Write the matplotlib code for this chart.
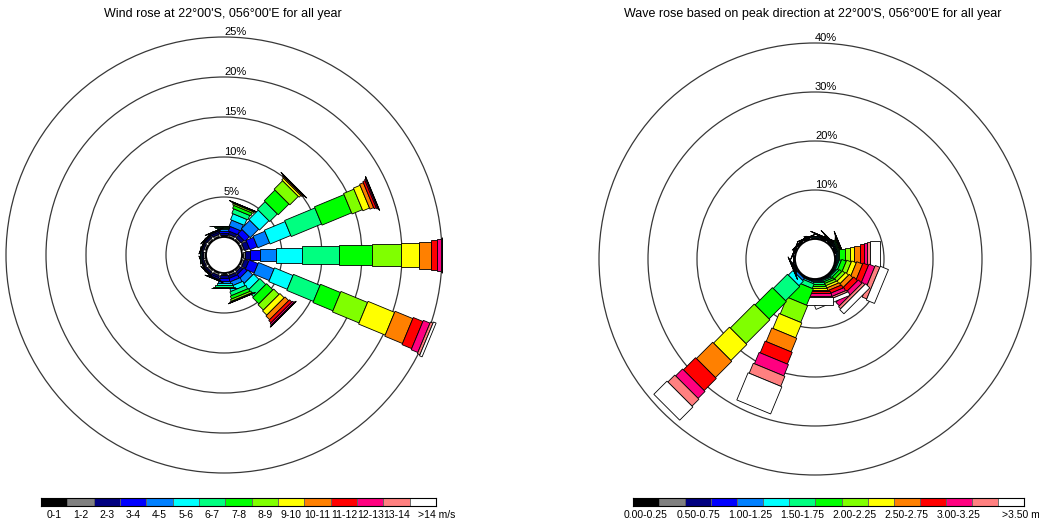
import numpy as np
import matplotlib
matplotlib.use("Agg")
import matplotlib.pyplot as plt
from matplotlib.patches import Polygon, Circle

plt.rcParams['font.family'] = ['Liberation Sans', 'DejaVu Sans']

# speed / height class colours (shared by both roses)
class_colors = ['#000000', '#808080', '#000080', '#0000ff', '#0080ff', '#00ffff',
                '#00ff80', '#00ff00', '#80ff00', '#ffff00', '#ff8000', '#ff0000',
                '#ff0080', '#ff8080', '#ffffff']

wind_labels = ['0-1', '1-2', '2-3', '3-4', '4-5', '5-6', '6-7', '7-8', '8-9',
               '9-10', '10-11', '11-12', '12-13', '13-14', '>14 m/s']
wave_labels = ['0.00-0.25', '', '0.50-0.75', '', '1.00-1.25', '', '1.50-1.75', '',
               '2.00-2.25', '', '2.50-2.75', '', '3.00-3.25', '', '>3.50 m']

# 16 sectors, compass bearing the bar points to
sectors = np.arange(16) * 22.5

# wind frequency (%) per speed class, one list per sector
wind_n = [0.1, 0.2, 0.25, 0.25, 0.2, 0.15, 0.1, 0.07, 0.04, 0.02, 0.01, 0.01, 0, 0, 0]
wind_nne = [0.1, 0.25, 0.4, 0.6, 0.8, 0.8, 0.6, 0.4, 0.2, 0.08, 0.04, 0.02, 0.01, 0, 0]
wind_ne = [0.1, 0.25, 0.45, 0.8, 1.5, 1.65, 1.35, 1.9, 1.5, 0.3, 0.15, 0.08, 0.04, 0.02, 0.01]
wind_ene = [0.1, 0.25, 0.65, 1.0, 1.6, 2.8, 4.1, 4.0, 1.4, 0.9, 0.5, 0.3, 0.15, 0.08, 0.04]
wind_e = [0.1, 0.25, 0.6, 1.25, 2.1, 3.25, 4.6, 4.1, 3.6, 2.25, 1.5, 0.75, 0.5, 0.1, 0.05]
wind_ese = [0.1, 0.25, 0.55, 1.2, 2.1, 2.5, 3.6, 2.7, 3.6, 3.6, 2.4, 1.3, 0.9, 0.35, 0.35]
wind_se = [0.1, 0.2, 0.35, 0.55, 0.85, 0.95, 1.05, 1.1, 0.95, 0.75, 0.65, 0.4, 0.22, 0.08, 0.04]
wind_sse = [0.1, 0.25, 0.35, 0.45, 0.55, 0.6, 0.5, 0.4, 0.25, 0.1, 0.04, 0.01, 0, 0, 0]
wind_s = [0.1, 0.2, 0.3, 0.35, 0.3, 0.25, 0.2, 0.1, 0.06, 0.03, 0.01, 0, 0, 0, 0]
wind_ssw = [0.12, 0.25, 0.25, 0.18, 0.1, 0.05, 0.03, 0.01, 0, 0, 0, 0, 0, 0, 0]
wind_sw = [0.12, 0.25, 0.2, 0.12, 0.06, 0.03, 0.01, 0, 0, 0, 0, 0, 0, 0, 0]
wind_wsw = [0.12, 0.22, 0.18, 0.1, 0.05, 0.02, 0.01, 0, 0, 0, 0, 0, 0, 0, 0]
wind_w = [0.12, 0.22, 0.18, 0.1, 0.05, 0.02, 0.01, 0, 0, 0, 0, 0, 0, 0, 0]
wind_wnw = [0.12, 0.22, 0.18, 0.1, 0.05, 0.02, 0.01, 0, 0, 0, 0, 0, 0, 0, 0]
wind_nw = [0.12, 0.25, 0.2, 0.12, 0.06, 0.03, 0.01, 0, 0, 0, 0, 0, 0, 0, 0]
wind_nnw = [0.12, 0.25, 0.25, 0.15, 0.08, 0.04, 0.02, 0.01, 0, 0, 0, 0, 0, 0, 0]

# wave frequency (%) per height class, one list per sector (peak direction)
wave_n = [0.1, 0.15, 0.1, 0.08, 0.05, 0.04, 0.03, 0.02, 0.01, 0.01, 0, 0, 0, 0, 0]
wave_nne = [0.1, 0.15, 0.15, 0.1, 0.08, 0.06, 0.05, 0.04, 0.03, 0.02, 0.01, 0.01, 0, 0, 0]
wave_ne = [0.1, 0.15, 0.15, 0.12, 0.1, 0.08, 0.06, 0.05, 0.04, 0.03, 0.02, 0.01, 0.01, 0, 0]
wave_ene = [0.1, 0.15, 0.15, 0.15, 0.15, 0.15, 0.2, 0.2, 0.15, 0.1, 0.08, 0.05, 0.04, 0.02, 0.01]
wave_e = [0.05, 0.05, 0.05, 0.1, 0.15, 0.2, 0.3, 1.1, 1.0, 0.8, 1.3, 0.8, 0.6, 0.6, 2.0]
wave_ese = [0.05, 0.05, 0.05, 0.1, 0.15, 0.2, 0.4, 1.0, 1.0, 1.0, 1.3, 1.2, 1.3, 1.0, 1.8]
wave_se = [0.05, 0.05, 0.05, 0.1, 0.15, 0.2, 0.4, 0.6, 0.7, 0.8, 1.0, 1.1, 1.0, 0.6, 1.2]
wave_sse = [0.05, 0.05, 0.05, 0.1, 0.15, 0.2, 0.3, 0.4, 0.5, 0.5, 0.6, 0.7, 0.7, 0.4, 0.8]
wave_s = [0.02, 0.03, 0.05, 0.1, 0.15, 0.2, 0.4, 0.4, 0.4, 0.4, 0.4, 0.4, 0.45, 0.3, 1.6]
wave_ssw = [0.03, 0.05, 0.07, 0.1, 0.15, 0.3, 1.0, 3.6, 3.7, 3.3, 3.0, 2.6, 2.5, 2.2, 6.0]
wave_sw = [0.02, 0.05, 0.08, 0.15, 0.5, 1.3, 4.1, 5.0, 6.9, 4.6, 4.7, 3.5, 2.0, 2.0, 3.8]
wave_wsw = [0.1, 0.15, 0.15, 0.12, 0.1, 0.08, 0.06, 0.04, 0.02, 0.01, 0, 0, 0, 0, 0]
wave_w = [0.1, 0.12, 0.1, 0.08, 0.05, 0.03, 0.02, 0.01, 0, 0, 0, 0, 0, 0, 0]
wave_wnw = [0.1, 0.12, 0.1, 0.06, 0.04, 0.03, 0.02, 0.01, 0, 0, 0, 0, 0, 0, 0]
wave_nw = [0.1, 0.12, 0.1, 0.06, 0.04, 0.03, 0.02, 0.01, 0, 0, 0, 0, 0, 0, 0]
wave_nnw = [0.1, 0.14, 0.12, 0.08, 0.05, 0.03, 0.02, 0.01, 0, 0, 0, 0, 0, 0, 0]

wind_table = [wind_n, wind_nne, wind_ne, wind_ene, wind_e, wind_ese, wind_se, wind_sse,
              wind_s, wind_ssw, wind_sw, wind_wsw, wind_w, wind_wnw, wind_nw, wind_nnw]
wave_table = [wave_n, wave_nne, wave_ne, wave_ene, wave_e, wave_ese, wave_se, wave_sse,
              wave_s, wave_ssw, wave_sw, wave_wsw, wave_w, wave_wnw, wave_nw, wave_nnw]

wind_rings = [5, 10, 15, 20, 25]
wave_rings = [10, 20, 30, 40]

W, H = 1039, 524
# bar thickness in pixels grows with the class
class_px = 3 + 2.4 * np.arange(15)


def draw_rose(ax, table, rings, px_per_pct, calm_px):
    r0 = calm_px / px_per_pct
    for p in rings:
        ax.add_patch(Circle((0, 0), r0 + p, fill=False, ec='#383838', lw=0.9, zorder=1))
        ax.text(0, r0 + p, f'{p}%', ha='left', va='bottom', fontsize=8, zorder=5)
    for bearing, freqs in zip(sectors, table):
        t = np.deg2rad(bearing)
        u = np.array([np.sin(t), np.cos(t)])
        v = np.array([np.cos(t), -np.sin(t)])
        cum = r0 + np.concatenate([[0], np.cumsum(freqs)])
        for k, f in enumerate(freqs):
            if f <= 0:
                continue
            h = class_px[k] / 2 / px_per_pct
            a, b = cum[k], cum[k + 1]
            pts = [a * u + h * v, b * u + h * v, b * u - h * v, a * u - h * v]
            ax.add_patch(Polygon(pts, closed=True, fc=class_colors[k], ec='black',
                                 lw=0.6, zorder=2))
    ax.add_patch(Circle((0, 0), r0, fc='white', ec='black', lw=1.3, zorder=3))
    ax.set_axis_off()


def draw_legend(x0, x1, labels, last_px):
    cax = fig.add_axes([x0 / W, (H - 506) / H, (x1 - x0) / W, 8 / H])
    n = len(class_colors)
    cax.bar(np.arange(n) + 0.5, 1, width=1, color=class_colors, edgecolor='#606060', lw=0.6)
    cax.set_xlim(0, n)
    cax.set_ylim(0, 1)
    cax.set_xticks([])
    cax.set_yticks([])
    for s in cax.spines.values():
        s.set_color('black')
        s.set_linewidth(0.8)
    for i, lab in enumerate(labels[:-1]):
        cax.text(i + 0.5, -0.5, lab, ha='center', va='top', fontsize=7.5, clip_on=False)
    cell = (x1 - x0) / n
    cax.text((last_px - x0) / cell, -0.5, labels[-1], ha='left', va='top',
             fontsize=7.5, clip_on=False)


fig = plt.figure(figsize=(W / 100, H / 100), dpi=100)
fig.patch.set_facecolor('white')

# left: wind rose, 8 px per percent, centre at (224, 255) px
s1 = 8.0
ax1 = fig.add_axes([0, 0, 520 / W, 1])
ax1.set_xlim(-224 / s1, (520 - 224) / s1)
ax1.set_ylim(-(H - 255) / s1, 255 / s1)
draw_rose(ax1, wind_table, wind_rings, s1, 18)

# right: wave rose, 4.9 px per percent, centre at (815, 259) px
s2 = 4.9
ax2 = fig.add_axes([520 / W, 0, (W - 520) / W, 1])
ax2.set_xlim(-(815 - 520) / s2, (W - 815) / s2)
ax2.set_ylim(-(H - 259) / s2, 259 / s2)
draw_rose(ax2, wave_table, wave_rings, s2, 20)

fig.text(223 / W, 1 - 14 / H, "Wind rose at 22\u00b000'S, 056\u00b000'E for all year",
         ha='center', va='center', fontsize=9)
fig.text(813 / W, 1 - 14 / H,
         "Wave rose based on peak direction at 22\u00b000'S, 056\u00b000'E for all year",
         ha='center', va='center', fontsize=9)

draw_legend(41, 436, wind_labels, 418)
draw_legend(633, 1024, wave_labels, 1002)

fig.savefig('out.png', dpi=100, facecolor='white')
